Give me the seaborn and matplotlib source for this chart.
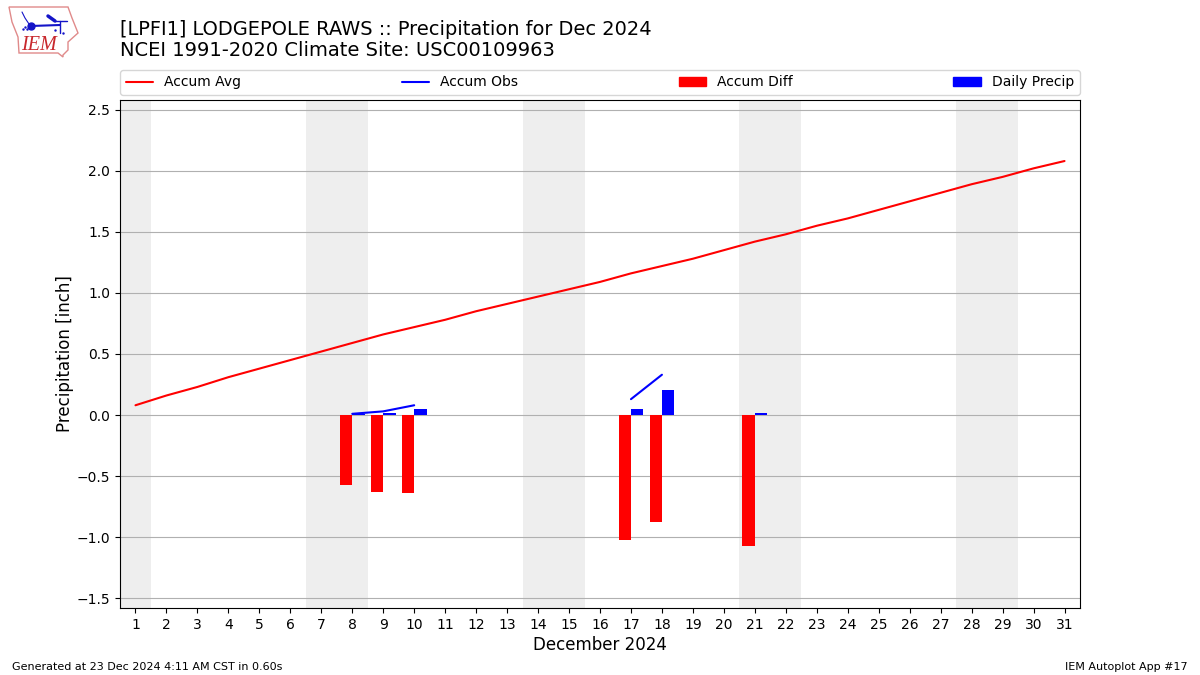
import numpy as np
import pandas as pd
import matplotlib
matplotlib.use("Agg")
import matplotlib.pyplot as plt
from matplotlib.patches import Patch, Polygon
import seaborn as sns

# Values
days = list(range(1, 32))
accum_avg = [0.08, 0.16, 0.23, 0.31, 0.38, 0.45, 0.52, 0.59, 0.66, 0.72, 0.78,
             0.85, 0.91, 0.97, 1.03, 1.09, 1.16, 1.22, 1.28, 1.35, 1.42, 1.48,
             1.55, 1.61, 1.68, 1.75, 1.82, 1.89, 1.95, 2.02, 2.08]
obs_days_a = [8, 9, 10]
obs_vals_a = [0.01, 0.03, 0.08]
obs_days_b = [17, 18]
obs_vals_b = [0.13, 0.33]
bar_days = [8, 9, 10, 17, 18, 21]
accum_diff = [-0.57, -0.63, -0.64, -1.02, -0.88, -1.07]
daily_precip = [0.01, 0.02, 0.05, 0.05, 0.205, 0.02]
weekends = [(0.5, 1.5), (6.5, 8.5), (13.5, 15.5), (20.5, 22.5), (27.5, 29.5)]
yticks = [-1.5, -1.0, -0.5, 0.0, 0.5, 1.0, 1.5, 2.0, 2.5]

sns.set_style("ticks", {"text.color": "black", "axes.labelcolor": "black",
                        "xtick.color": "black", "ytick.color": "black"})
fig = plt.figure(figsize=(12, 6.75), dpi=100)
ax = fig.add_axes([0.1, 0.0993, 0.8, 0.7526])

for lo, hi in weekends:
    ax.axvspan(lo, hi, color="#eeeeee", zorder=0, lw=0)

# Bars side by side around each day
bars = pd.DataFrame({
    "day": bar_days * 2,
    "value": accum_diff + daily_precip,
    "series": ["Accum Diff"] * 6 + ["Daily Precip"] * 6,
})
sns.barplot(data=bars, x="day", y="value", hue="series", native_scale=True,
            palette={"Accum Diff": "red", "Daily Precip": "blue"},
            width=0.8, gap=0, saturation=1, legend=False, ax=ax, zorder=3,
            linewidth=0, edgecolor="none")

sns.lineplot(x=days, y=accum_avg, color="red", lw=1.5, ax=ax, zorder=4)
sns.lineplot(x=obs_days_a, y=obs_vals_a, color="blue", lw=1.5, ax=ax, zorder=4)
sns.lineplot(x=obs_days_b, y=obs_vals_b, color="blue", lw=1.5, ax=ax, zorder=4)

ax.set_xlim(0.5, 31.5)
ax.set_ylim(-1.58, 2.58)
ax.set_xticks(days)
ax.set_xticklabels([str(d) for d in days])
ax.set_yticks(yticks)
ax.tick_params(labelsize=10, length=3.5, width=0.8, color="black")
ax.yaxis.grid(True, color="#b0b0b0", lw=0.8)
ax.set_axisbelow(True)
for side in ax.spines.values():
    side.set_visible(True)
    side.set_color("black")
    side.set_linewidth(0.8)
ax.set_xlabel("December 2024", fontsize=12, labelpad=3)
ax.set_ylabel("Precipitation [inch]", fontsize=12, labelpad=2)

handles = [plt.Line2D([], [], color="red", lw=1.5, label="Accum Avg"),
           plt.Line2D([], [], color="blue", lw=1.5, label="Accum Obs"),
           Patch(color="red", label="Accum Diff"),
           Patch(color="blue", label="Daily Precip")]
ax.legend(handles=handles, ncol=4, mode="expand", loc="lower left",
          bbox_to_anchor=(0, 1.0098, 1, 0.05), borderaxespad=0, fontsize=10, frameon=True)

fig.text(0.1, 0.957, "[LPFI1] LODGEPOLE RAWS :: Precipitation for Dec 2024", fontsize=13.97, va="center")
fig.text(0.1, 0.925, "NCEI 1991-2020 Climate Site: USC00109963", fontsize=14, va="center")
fig.text(0.01, 0.0075, "Generated at 23 Dec 2024 4:11 AM CST in 0.60s", fontsize=8)
fig.text(0.99, 0.0075, "IEM Autoplot App #17", fontsize=8, ha="right")

# Logo, in pixel coordinates
logo = fig.add_axes([0, 0.9, 0.08, 0.1])
logo.set_xlim(0, 96)
logo.set_ylim(67.5, 0)
logo.axis("off")
outline = [(9, 7), (68, 7), (72, 18), (78, 33), (68, 42), (68, 50), (63, 55),
           (63, 57), (58, 53), (19, 53), (18, 37), (12, 22), (9, 7)]
logo.add_patch(Polygon(outline, closed=True, fill=False, ec="#e08a8a", lw=1))
logo.plot([31, 60], [26, 25], color="#1414c8", lw=1.5)
logo.plot([31], [26], "o", color="#1414c8", ms=5)
logo.plot([60, 60], [21, 33], color="#1414c8", lw=1)
logo.plot([48, 55], [16, 21], color="#1414c8", lw=2.5)
logo.plot([55, 67], [21, 21], color="#1414c8", lw=1)
logo.plot([22, 25, 29], [12, 18, 24], color="#1414c8", lw=0.8)
logo.plot([23, 25, 27, 55, 63], [29, 27, 29, 30, 33], ".", color="#1414c8", ms=1.5)
logo.text(21, 45, "IEM", color="#c8282d", fontsize=14.5, family="Liberation Serif", style="italic", va="center")

fig.savefig("out.png", dpi=100)
